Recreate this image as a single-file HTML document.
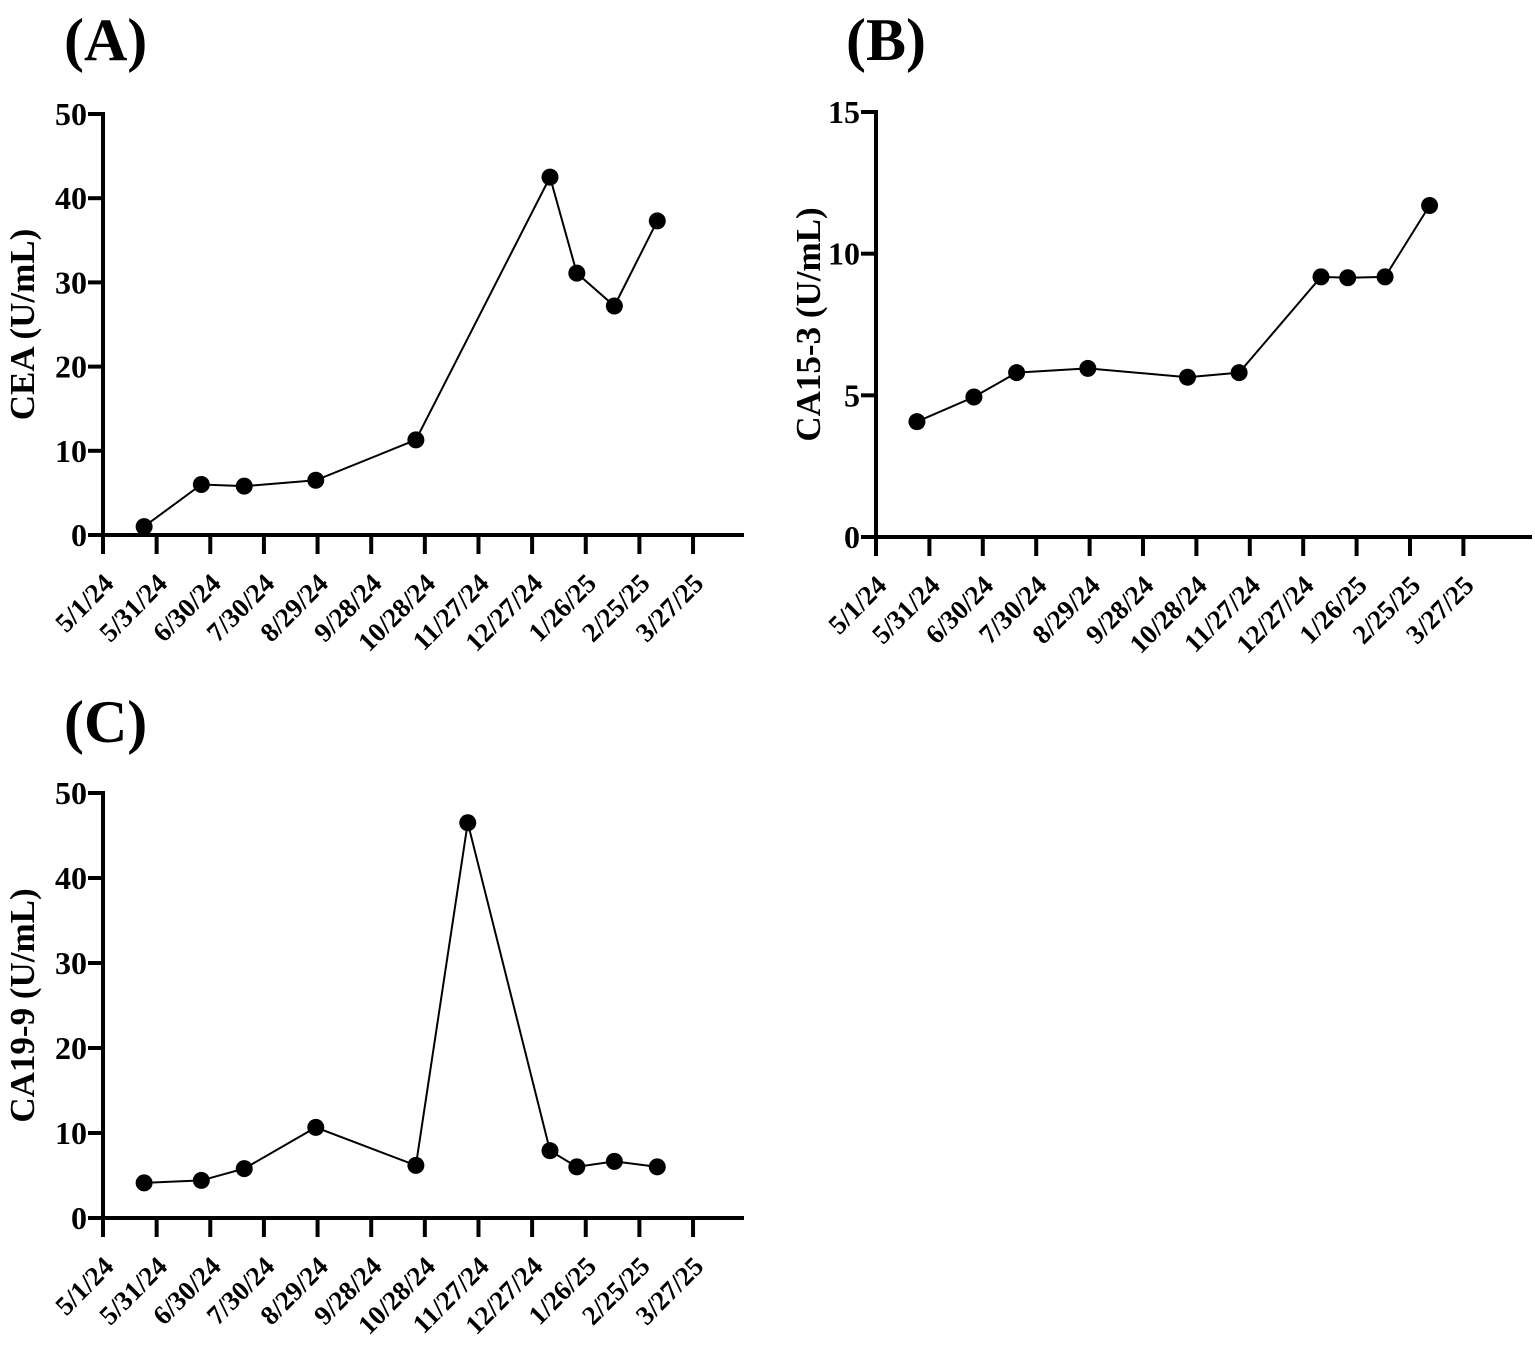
<!DOCTYPE html>
<html><head><meta charset="utf-8"><style>
html,body{margin:0;padding:0;background:#fff}
svg{display:block}
text{font-family:"Liberation Serif",serif;font-weight:bold;fill:#000}
</style></head><body>
<svg id="fig" width="1535" height="1350" viewBox="0 0 1535 1350" xmlns="http://www.w3.org/2000/svg"></svg>
<script>
// Shared x-axis ticks (days since 5/1/24) and labels
const tickLabels = ["5/1/24","5/31/24","6/30/24","7/30/24","8/29/24","9/28/24","10/28/24","11/27/24","12/27/24","1/26/25","2/25/25","3/27/25"];
const tickDays = [0,30,60,90,120,150,180,210,240,270,300,330];
// Panel A: CEA
const ceaDays = [23,55,79,119,175,250,265,286,310];
const ceaValues = [1.0,6.0,5.8,6.5,11.3,42.5,31.1,27.2,37.3];
const ceaTicks = [0,10,20,30,40,50];
// Panel B: CA15-3
const ca153Days = [23,55,79,119,175,204,250,265,286,311];
const ca153Values = [4.07,4.94,5.80,5.95,5.64,5.80,9.18,9.15,9.18,11.70];
const ca153Ticks = [0,5,10,15];
// Panel C: CA19-9
const ca199Days = [23,55,79,119,175,204,250,265,286,310];
const ca199Values = [4.13,4.42,5.81,10.66,6.19,46.5,7.92,6.02,6.66,6.02];
const ca199Ticks = [0,10,20,30,40,50];

const NS="http://www.w3.org/2000/svg";
const svg=document.getElementById('fig');
function mk(tag,attrs,parent){const e=document.createElementNS(NS,tag);for(const k in attrs)e.setAttribute(k,attrs[k]);(parent||svg).appendChild(e);return e;}

function panel(cfg){
  const g=mk('g',{});
  
  
  const pxPerDay=cfg.pxPerDay;
  const xs=d=>cfg.x0+d*pxPerDay;
  const ys=v=>cfg.y0-(v/cfg.ymax)*(cfg.y0-cfg.yTop);
  const lt=mk('text',{x:cfg.labelX,y:cfg.labelY,'font-size':60},g);
  lt.textContent=cfg.letter;
  
  
  const ya=mk('line',{x1:cfg.x0,y1:cfg.yTop-2,x2:cfg.x0,y2:cfg.y0+2,stroke:'#000','stroke-width':4},g);
  
  
  cfg.yticks.forEach(v=>{
    const y=ys(v);
    mk('line',{x1:cfg.x0-15,y1:y,x2:cfg.x0,y2:y,stroke:'#000','stroke-width':4},g);
    const t=mk('text',{x:cfg.x0-16,y:y+11,'font-size':32,'text-anchor':'end'},g);
    t.textContent=v;
    
    
  });
  const yt=mk('text',{x:0,y:0,'font-size':35,'text-anchor':'middle',transform:`translate(${cfg.titleX},${(cfg.y0+cfg.yTop)/2}) rotate(-90)`},g);
  yt.textContent=cfg.title;
  
  
  const xa=mk('line',{x1:cfg.x0-2,y1:cfg.y0,x2:cfg.xEnd,y2:cfg.y0,stroke:'#000','stroke-width':4},g);
  
  
  tickDays.forEach((d,i)=>{
    const x=xs(d);
    mk('line',{x1:x,y1:cfg.y0,x2:x,y2:cfg.y0+19,stroke:'#000','stroke-width':4},g);
    const t=mk('text',{x:0,y:0,'font-size':27,'text-anchor':'end',transform:`translate(${x+12},${cfg.y0+50}) rotate(-45)`},g);
    t.textContent=tickLabels[i];
    
    
  });
  const pts=cfg.days.map((d,i)=>xs(d)+','+ys(cfg.values[i])).join(' ');
  const pl=mk('polyline',{points:pts,fill:'none',stroke:'#000','stroke-width':2},g);
  
  
  cfg.days.forEach((d,i)=>{
    const c=mk('circle',{cx:xs(d),cy:ys(cfg.values[i]),r:8.5,fill:'#000'},g);
    
    
  });
}

panel({name:'panel-a-cea',letter:'(A)',labelX:64,labelY:60,x0:103,y0:535,yTop:114,ymax:50,xEnd:744,pxPerDay:1.788,yticks:ceaTicks,title:'CEA (U/mL)',titleX:34,days:ceaDays,values:ceaValues});
panel({name:'panel-b-ca153',letter:'(B)',labelX:846,labelY:60,x0:876,y0:537,yTop:112,ymax:15,xEnd:1532,pxPerDay:1.78,yticks:ca153Ticks,title:'CA15-3 (U/mL)',titleX:820,days:ca153Days,values:ca153Values});
panel({name:'panel-c-ca199',letter:'(C)',labelX:64,labelY:742,x0:103,y0:1218,yTop:793,ymax:50,xEnd:744,pxPerDay:1.788,yticks:ca199Ticks,title:'CA19-9 (U/mL)',titleX:34,days:ca199Days,values:ca199Values});
</script>
</body></html>
